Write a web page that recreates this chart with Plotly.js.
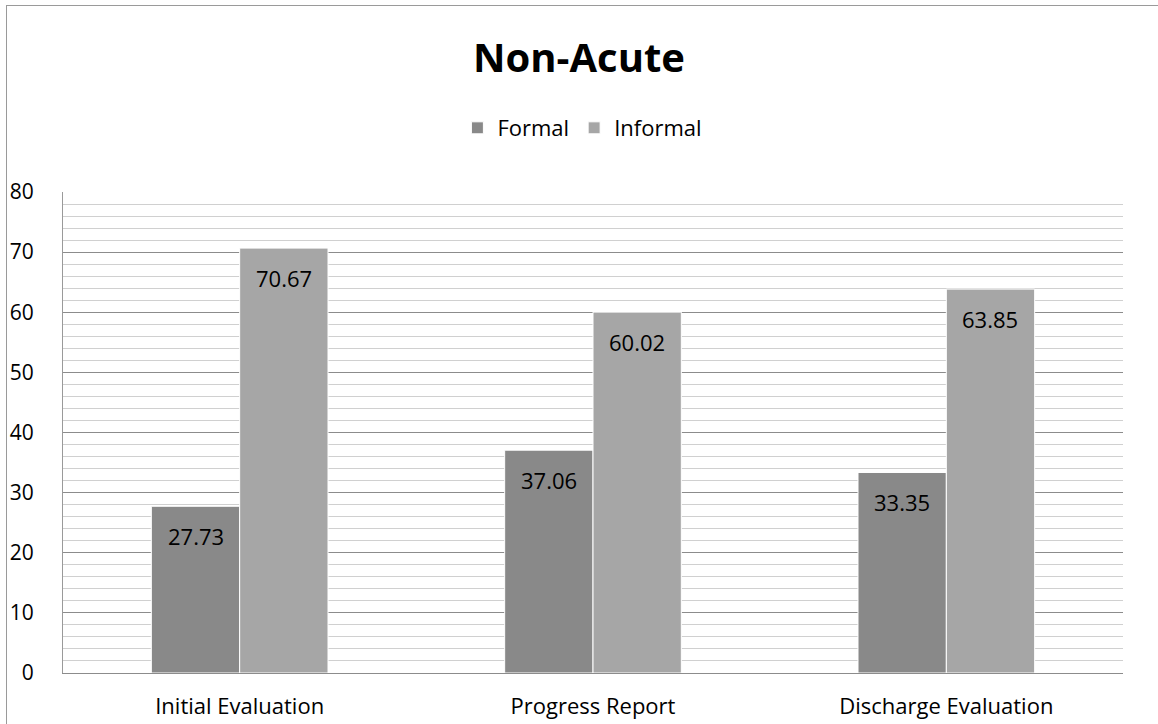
<!DOCTYPE html>
<html>
<head>
<meta charset="utf-8">
<script src="https://cdn.plot.ly/plotly-3.0.1.min.js"></script>
<style>
html,body{margin:0;padding:0;background:#fff;overflow:hidden;}
#chart{position:absolute;left:0;top:0;width:1158px;height:724px;}
#frame{position:absolute;left:6px;top:5px;width:1200px;height:800px;border-left:1.5px solid #9a9a9a;border-top:1.5px solid #9a9a9a;pointer-events:none;}
</style>
</head>
<body>
<div id="chart"></div>
<div id="frame"></div>
<script>
const categories = ["Initial Evaluation", "Progress Report", "Discharge Evaluation"];
const formalValues = [27.73, 37.06, 33.35];
const informalValues = [70.67, 60.02, 63.85];
const seriesNames = ["Formal", "Informal"];
const yTicks = [0, 10, 20, 30, 40, 50, 60, 70, 80];

const FONT = "Open Sans, Noto Sans, Liberation Sans, sans-serif";
const colors = ["#898989", "#a6a6a6"];

const traces = [formalValues, informalValues].map((vals, i) => ({
  type: "bar",
  name: seriesNames[i],
  x: categories,
  y: vals,
  marker: {color: colors[i], line: {color: "#ffffff", width: 1}},
  hoverinfo: "none"
}));

const annotations = [];
[formalValues, informalValues].forEach((vals, i) => {
  vals.forEach((v, j) => {
    annotations.push({
      x: categories[j], y: v, xref: "x", yref: "y",
      text: v.toFixed(2), showarrow: false,
      xshift: i === 0 ? -44 : 44, yshift: -30,
      font: {family: FONT, size: 22, color: "#000"}
    });
  });
});

const layout = {
  width: 1158, height: 724,
  margin: {l: 63, r: 35, t: 192, b: 51},
  paper_bgcolor: "#fff", plot_bgcolor: "#fff",
  font: {family: FONT, color: "#000"},
  title: {text: "<b>Non-Acute</b>", font: {family: FONT, size: 40, color: "#000"},
          x: 0.5, xanchor: "center", y: 0.92, yanchor: "middle", yref: "container"},
  barmode: "group", bargap: 0.5, bargroupgap: 0,
  showlegend: true,
  legend: {orientation: "h", x: 0.49, xanchor: "center", y: 1.133, yanchor: "middle",
           font: {family: FONT, size: 22, color: "#000"}, itemclick: false, itemdoubleclick: false},
  xaxis: {type: "category", showgrid: false, showline: true, linecolor: "#8c8c8c", linewidth: 1,
          ticks: "", tickfont: {family: FONT, size: 22, color: "#000"}, ticklabelstandoff: 14,
          fixedrange: true},
  yaxis: {range: [0, 80], tickvals: yTicks, ticktext: yTicks.map(String),
          showgrid: true, gridcolor: "#8c8c8c", gridwidth: 1,
          minor: {dtick: 2, showgrid: true, gridcolor: "#d0d0d0", gridwidth: 1},
          showline: true, linecolor: "#9a9a9a", linewidth: 1, zeroline: false,
          ticks: "", tickfont: {family: FONT, size: 21, color: "#000"}, ticklabelstandoff: 24,
          fixedrange: true},
  annotations: annotations
};

Plotly.newPlot("chart", traces, layout, {displayModeBar: false, staticPlot: true});
</script>
</body>
</html>
